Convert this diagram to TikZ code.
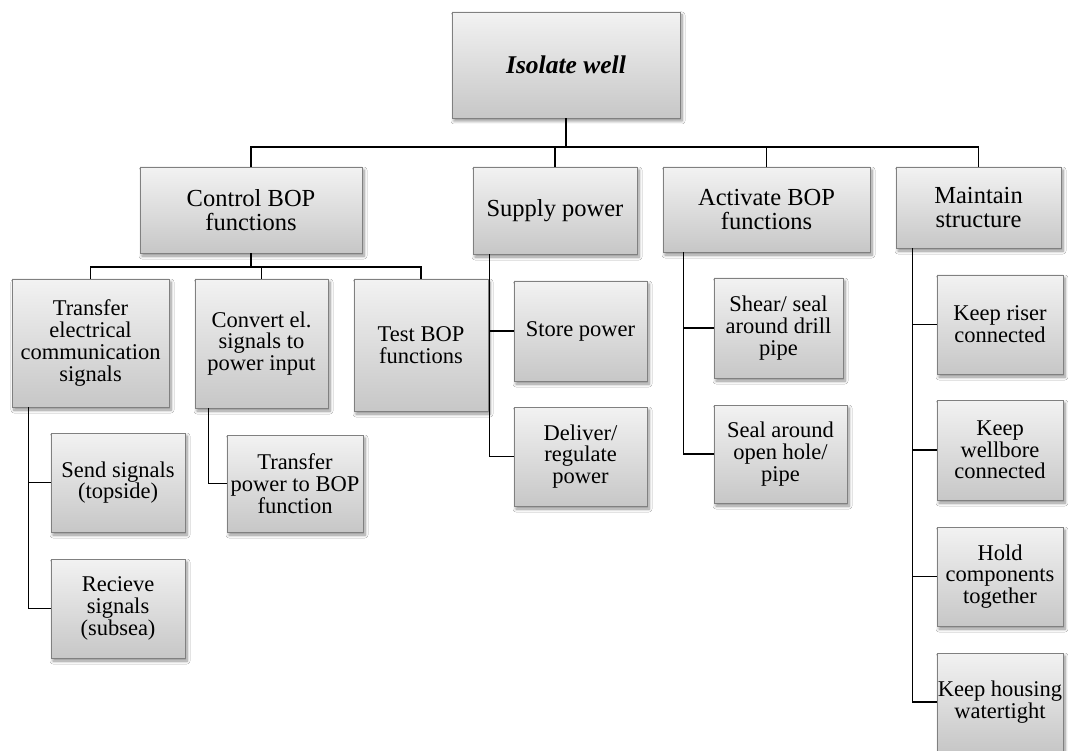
\documentclass[tikz,border=0pt]{standalone}
\usepackage{fontspec}
\setmainfont{Liberation Serif}
\usetikzlibrary{shadows.blur}

\tikzset{
  box/.style={
    draw=black!50, line width=0.9pt, rectangle, inner sep=0pt, align=center,
    top color=black!5, bottom color=black!22,
    blur shadow={shadow xshift=2pt, shadow yshift=-3pt, shadow opacity=45, shadow blur steps=6, shadow blur radius=3pt},
    font=\fontsize{22.5}{21.7}\selectfont
  },
  headbox/.style={box, font=\fontsize{24.5}{23.3}\selectfont},
  rootbox/.style={box, font=\fontsize{25.5}{25}\selectfont\bfseries\itshape},
  link/.style={draw=black, line width=1.1pt}
}

\begin{document}
\begin{tikzpicture}[x=1pt, y=-1pt]
\useasboundingbox[fill=white] (0,0) rectangle (1068,751);

% root
\node[rootbox, minimum width=228pt, minimum height=106pt] (root) at (566,65) {Isolate well};

% first level
\node[headbox, minimum width=222pt, minimum height=86pt] (ctrl) at (251,210) {Control BOP\\functions};
\node[headbox, minimum width=164pt, minimum height=87pt] (supply) at (555,210.5) {Supply power};
\node[headbox, minimum width=207pt, minimum height=85pt] (activ) at (766.5,209.5) {Activate BOP\\functions};
\node[headbox, minimum width=165pt, minimum height=81pt] (maint) at (978.5,207.5) {Maintain\\structure};

% under control
\node[box, minimum width=157pt, minimum height=128pt] (trans) at (90.5,343) {Transfer\\electrical\\communication\\signals};
\node[box, minimum width=133pt, minimum height=129pt] (conv) at (261.5,343.5) {Convert el.\\signals to\\power input};
\node[box, minimum width=134pt, minimum height=132pt] (test) at (421,345) {Test BOP\\functions};
\node[box, minimum width=134pt, minimum height=99pt] (send) at (118,482.5) {Send signals\\(topside)};
\node[box, minimum width=134pt, minimum height=99pt] (recv) at (118,608.5) {Recieve\\signals\\(subsea)};
\node[box, minimum width=136pt, minimum height=97pt] (tpow) at (295,483.5) {Transfer\\power to BOP\\function};

% under supply
\node[box, minimum width=133pt, minimum height=100pt] (store) at (580.5,331) {Store power};
\node[box, minimum width=133pt, minimum height=99pt] (deliv) at (580.5,456.5) {Deliver/\\regulate\\power};

% under activate
\node[box, minimum width=129pt, minimum height=100pt] (shear) at (778.5,328) {Shear/ seal\\around drill\\pipe};
\node[box, minimum width=133pt, minimum height=98pt] (sealoh) at (780.5,454) {Seal around\\open hole/\\pipe};

% under maintain
\node[box, minimum width=126pt, minimum height=99pt] (riser) at (1000,324.5) {Keep riser\\connected};
\node[box, minimum width=126pt, minimum height=100pt] (wbore) at (1000,450) {Keep\\wellbore\\connected};
\node[box, minimum width=126pt, minimum height=99pt] (hold) at (1000,576.5) {Hold\\components\\together};
\node[box, minimum width=126pt, minimum height=98pt] (house) at (1000,702) {Keep housing\\watertight};

% connectors: root to first level
\coordinate (bus1) at (566,147);
\draw[link] (root.south) -- (bus1);
\draw[link] (ctrl.north) |- (bus1) -| (maint.north);
\draw[link] (supply.north) -- (supply.north |- bus1);
\draw[link] (activ.north) -- (activ.north |- bus1);

% control branch
\coordinate (bus2) at (251,267);
\draw[link] (ctrl.south) -- (bus2);
\draw[link] (trans.north) |- (bus2) -| (test.north);
\draw[link] (conv.north) -- (conv.north |- bus2);

\coordinate (tr0) at ([xshift=17pt]trans.south west);
\draw[link] (tr0) |- (send.west);
\draw[link] (tr0) |- (recv.west);
\coordinate (cv0) at ([xshift=14pt]conv.south west);
\draw[link] (cv0) |- (tpow.west);

% supply branch
\coordinate (sp0) at ([xshift=17pt]supply.south west);
\draw[link] (sp0) |- (store.west);
\draw[link] (sp0) |- (deliv.west);

% activate branch
\coordinate (ac0) at ([xshift=21pt]activ.south west);
\draw[link] (ac0) |- (shear.west);
\draw[link] (ac0) |- (sealoh.west);

% maintain branch
\coordinate (mt0) at ([xshift=17pt]maint.south west);
\draw[link] (mt0) |- (riser.west);
\draw[link] (mt0) |- (wbore.west);
\draw[link] (mt0) |- (hold.west);
\draw[link] (mt0) |- (house.west);
\end{tikzpicture}
\end{document}
